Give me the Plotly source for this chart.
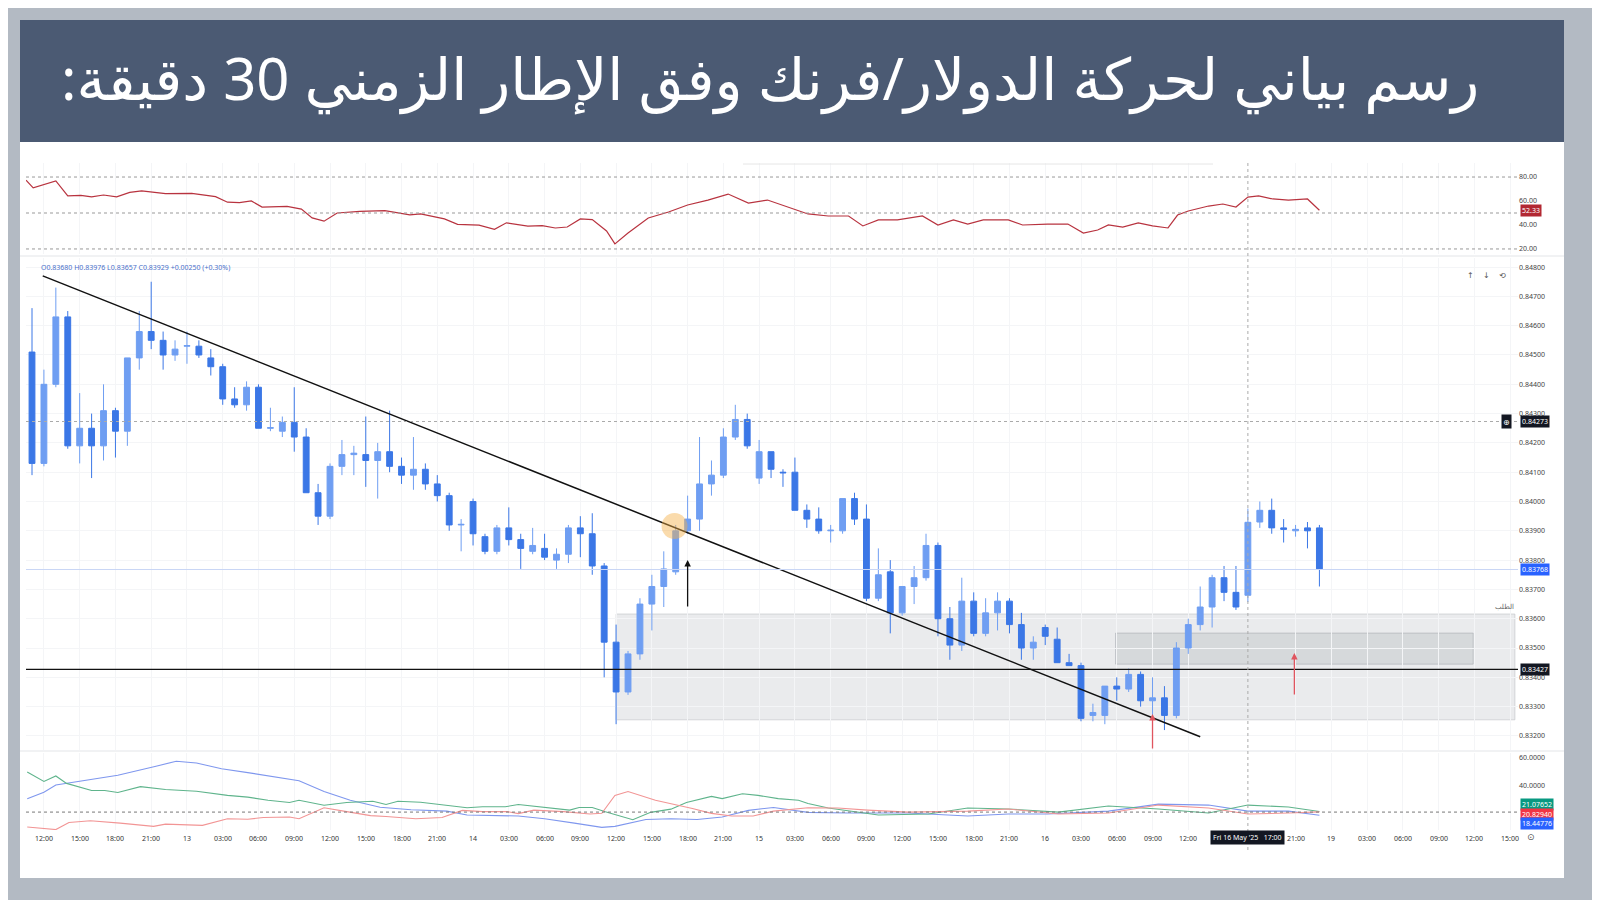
import plotly.graph_objects as go

# ---------------- data ----------------
opens = [.8451,.8413,.8440,.8463,.8419,.8425,.8419,.8431,.8424,.8449,.8458,.8455,.8450,.8453,.8453,.8449,.8446,.8435,.8433,.8439,
         .8425,.8424,.8427,.8422,.8403,.8395,.8412,.8416,.8416,.8414,.8417,.8412,.8409,.8411,.8406,.8402,.8392,.8400,.8388,.8383,
         .8391,.8387,.8383,.8384,.8380,.8382,.8391,.8389,.8378,.8352,.8335,.8348,.8365,.8371,.8376,.8390,.8394,.8406,.8409,.8422,
         .8428,.8408,.8417,.8410,.8410,.8397,.8394,.8390,.8390,.8401,.8394,.8367,.8376,.8362,.8371,.8374,.8385,.8360,.8351,.8366,
         .8355,.8362,.8366,.8358,.8350,.8357,.8353,.8345,.8344,.8327,.8327,.8337,.8336,.8341,.8332,.8333,.8327,.8350,.8358,.8364,
         .8374,.8369,.83680,.8393,.8397,.8391,.8390,.8391,.8391]
highs = [.8466,.8445,.8473,.8465,.8437,.8430,.8440,.8432,.8449,.8465,.8475,.8458,.8455,.8458,.8455,.8452,.8447,.8439,.8441,.8440,
         .8432,.8429,.8439,.8425,.8406,.8413,.8421,.8419,.8429,.8420,.8431,.8415,.8422,.8413,.8409,.8403,.8394,.8401,.8389,.8392,
         .8398,.8389,.8391,.8389,.8384,.8392,.8395,.8396,.8379,.8358,.8349,.8367,.8375,.8383,.8392,.8402,.8422,.8414,.8425,.8433,
         .8430,.8421,.8417,.8411,.8415,.8399,.8398,.8392,.8401,.8403,.8399,.8384,.8380,.8371,.8378,.8389,.8386,.8364,.8374,.8369,
         .8367,.8369,.8367,.8362,.8354,.8358,.8357,.8348,.8345,.8331,.8337,.8340,.8343,.8342,.8340,.8337,.8352,.8360,.8371,.8375,
         .8378,.8378,.83976,.8400,.8401,.8394,.8392,.8393,.8392]
lows = [.8409,.8412,.8439,.8418,.8413,.8408,.8414,.8415,.8419,.8445,.8452,.8445,.8448,.8447,.8449,.8443,.8433,.8432,.8431,.8425,
        .8424,.8422,.8417,.8403,.8392,.8394,.8409,.8409,.8405,.8401,.8410,.8406,.8404,.8404,.8400,.8390,.8383,.8385,.8382,.8382,
        .8385,.8377,.8382,.8380,.8377,.8379,.8381,.8375,.8340,.8324,.8334,.8346,.8356,.8364,.8375,.8389,.8390,.8402,.8408,.8421,
        .8418,.8406,.8408,.8405,.8397,.8391,.8389,.8386,.8389,.8392,.8366,.8366,.8355,.8361,.8365,.8373,.8354,.8346,.8349,.8354,
        .8354,.8356,.8355,.8346,.8346,.8351,.8345,.8344,.8325,.8325,.8324,.8332,.8335,.8330,.8327,.8322,.8326,.8348,.8356,.8357,
        .8366,.8363,.83657,.8391,.8389,.8386,.8388,.8384,.8371]
closes = [.8413,.8440,.8463,.8419,.8425,.8419,.8431,.8424,.8449,.8458,.8455,.8450,.8452,.84532,.8450,.8446,.8435,.8433,.8439,.8425,
          .84252,.8427,.8422,.8403,.8395,.8412,.8416,.84165,.8414,.8417,.8412,.8409,.8411,.8406,.8402,.8392,.83922,.8389,.8383,.8391,
          .8387,.8384,.8385,.8381,.8382,.8391,.8389,.8378,.8352,.8335,.8348,.8365,.8371,.8377,.8390,.8394,.8406,.8409,.8422,.8428,
          .8419,.8417,.8411,.84098,.8397,.8394,.8390,.83902,.8401,.8394,.8367,.8375,.8362,.8371,.8374,.8385,.8360,.8351,.8366,.8355,
          .8362,.8366,.8358,.8350,.8352,.8354,.8345,.8344,.8326,.8328,.8337,.8336,.8341,.8332,.8333,.8327,.8350,.8358,.8364,.8374,
          .8369,.8364,.83929,.8397,.8391,.83905,.83905,.8390,.8377]

rsi_t = [-0.5,0.1,2.0,3.0,4.1,5.0,6.0,7.1,8.2,9.2,11.2,13.4,15.4,16.4,17.4,18.4,19.3,21.4,22.6,23.5,24.5,25.6,27.5,29.6,31.7,32.6,
         34.6,35.7,37.5,38.8,39.8,41.6,42.8,43.9,44.9,46.0,47.0,48.2,48.9,50.0,51.7,53.4,55.0,56.7,58.4,60.1,61.7,63.4,65.1,66.8,
         68.5,69.7,71.0,72.6,74.7,76.0,77.3,78.5,79.8,81.9,83.1,85.2,86.9,88.2,89.4,90.3,91.5,92.8,94.0,95.3,96.1,97.0,98.7,99.9,
         101.0,102.0,102.9,104.1,105.4,107.0,108.0]
rsi_v = [77.3,71.0,76.7,64.2,64.7,63.4,65.0,63.4,67.2,68.5,66.1,66.4,63.6,59.0,58.7,60.1,54.9,55.5,53.3,45.9,43.2,50.0,51.4,51.9,
         48.4,49.2,45.1,40.5,39.9,36.4,41.8,39.1,39.4,37.5,38.3,45.1,44.5,35.0,24.2,33.3,45.8,50.8,56.7,60.8,65.8,58.3,60.8,55.0,
         49.2,47.5,47.5,39.2,44.2,44.2,47.5,40.0,44.2,40.8,44.2,44.2,40.0,40.8,40.8,33.3,35.8,40.0,38.3,41.7,39.2,37.5,48.3,51.7,
         55.8,57.5,55.0,63.3,64.2,61.7,60.8,61.7,52.33]

adx_t = [-0.4,1.0,2.0,4.4,7.2,10.4,12.1,13.8,15.9,18.1,20.2,22.4,24.5,26.7,29.2,31.8,34.8,36.5,40.8,43.0,45.5,47.8,48.9,51.5,53.6,
         55.8,57.9,60.1,62.2,65.1,68.5,73.5,78.5,81.9,85.2,90.3,94.5,98.7,102.0,105.4,108.0]
adx_v = [30.3,34.9,40.0,43.1,47.0,53.5,57.0,55.8,51.7,48.9,46.1,43.1,35.4,29.1,24.2,22.4,21.4,18.6,17.9,15.9,12.8,9.8,10.5,15.4,
         15.9,15.4,17.2,21.9,24.0,20.5,20.0,20.0,17.9,19.3,19.3,21.4,26.4,25.7,21.4,21.4,18.45]
dip_t = [-0.4,1.0,2.0,2.9,5.0,6.1,7.2,9.1,11.2,13.8,16.4,18.1,19.8,21.6,22.4,24.5,26.4,28.6,29.7,30.7,32.6,36.5,37.8,39.7,40.8,
         43.0,45.1,45.9,47.0,48.1,50.4,51.9,53.6,54.9,57.0,57.9,59.6,60.9,62.6,64.3,65.1,66.8,71.0,75.2,78.5,81.9,86.1,90.3,94.5,
         98.7,102.0,105.4,108.0]
dip_v = [49.3,42.6,46.5,41.2,36.1,36.1,34.7,38.9,36.8,35.6,32.6,31.4,29.1,27.5,29.1,25.6,27.5,28.4,26.1,28.4,27.7,23.8,24.5,24.5,
         26.1,23.8,22.1,24.0,24.0,21.0,15.2,20.5,22.8,27.5,31.9,30.3,33.8,32.6,30.3,29.1,26.8,23.6,18.6,19.3,23.6,22.9,20.7,25.0,
         22.9,20.0,25.7,24.3,21.08]
dim_t = [-0.4,2.0,3.1,4.9,7.4,10.2,11.2,14.3,16.4,18.1,19.4,21.6,22.4,24.5,26.4,28.4,29.7,30.7,32.2,34.4,36.1,37.8,39.9,40.8,42.1,
         44.6,46.8,47.8,48.9,50.0,52.3,55.4,57.0,58.7,60.5,62.2,65.1,67.6,70.1,73.5,78.5,81.9,86.1,90.3,94.5,98.7,102.0,105.4,108.0]
dim_v = [10.0,8.2,13.3,14.5,12.8,10.5,12.1,11.2,15.9,15.6,16.8,17.2,15.9,23.8,21.0,18.2,17.5,16.8,15.9,16.8,21.9,21.0,21.0,19.6,
         22.1,21.0,19.3,19.8,32.6,35.4,29.1,23.3,19.8,17.9,17.9,21.4,23.8,23.6,22.1,20.7,21.4,22.9,19.3,20.0,25.7,23.6,19.3,20.0,20.83]

trend_t = [0.9, 98.0]
trend_p = [0.8477, 0.83197]

level_support = 0.83427
level_dotted = 0.84273
level_last = 0.83768
zone_outer = [49.0, 124.4, 0.83255, 0.83616]
zone_inner = [90.9, 120.9, 0.83445, 0.83551]
cross_t = 102

tick_t = [1,4,7,10,13,16,19,22,25,28,31,34,37,40,43,46,49,52,55,58,61,64,67,70,73,76,79,82,85,88,91,94,97,106,109,112,115,118,121,124]
tick_txt = ["12:00","15:00","18:00","21:00","13","03:00","06:00","09:00","12:00","15:00","18:00","21:00","14","03:00","06:00",
            "09:00","12:00","15:00","18:00","21:00","15","03:00","06:00","09:00","12:00","15:00","18:00","21:00","16","03:00",
            "06:00","09:00","12:00","21:00","19","03:00","06:00","09:00","12:00","15:00"]
price_ticks = [0.832,0.833,0.834,0.835,0.836,0.837,0.838,0.839,0.840,0.841,0.842,0.843,0.844,0.845,0.846,0.847,0.848]

title = "رسم بياني لحركة الدولار/فرنك وفق الإطار الزمني 30 دقيقة:"

# ---------------- figure ----------------
W, H = 1600, 900
def px(x): return x / W
def py(y): return 1 - y / H

x0p, x1p = 18, 1510
xr = [-0.503, 124.66]
t = list(range(len(opens)))

fig = go.Figure()
bull, bear = "#6f9ef2", "#3b77e6"
fig.add_trace(go.Candlestick(x=t, open=opens, high=highs, low=lows, close=closes,
    increasing=dict(line=dict(color=bull, width=1), fillcolor=bull),
    decreasing=dict(line=dict(color=bear, width=1), fillcolor=bear),
    whiskerwidth=0, xaxis="x", yaxis="y", hoverinfo="skip"))
fig.add_trace(go.Scatter(x=trend_t, y=trend_p, mode="lines", line=dict(color="#111", width=1.5), xaxis="x", yaxis="y"))
fig.add_trace(go.Scatter(x=[53.9], y=[0.83916], mode="markers",
    marker=dict(size=26, color="rgba(245,175,70,0.45)"), xaxis="x", yaxis="y"))
fig.add_trace(go.Scatter(x=rsi_t, y=rsi_v, mode="lines", line=dict(color="#b8333f", width=1.2), xaxis="x", yaxis="y2"))
fig.add_trace(go.Scatter(x=adx_t, y=adx_v, mode="lines", line=dict(color="#7f97ee", width=1.1), xaxis="x", yaxis="y3"))
fig.add_trace(go.Scatter(x=dip_t, y=dip_v, mode="lines", line=dict(color="#5fb48c", width=1.1), xaxis="x", yaxis="y3"))
fig.add_trace(go.Scatter(x=dim_t, y=dim_v, mode="lines", line=dict(color="#f29595", width=1.1), xaxis="x", yaxis="y3"))

shapes = []
shapes.append(dict(type="rect", xref="paper", yref="paper", x0=0, x1=1, y0=0, y1=1, fillcolor="#b3bac3", line_width=0, layer="below"))
shapes.append(dict(type="rect", xref="paper", yref="paper", x0=px(12), x1=px(1556), y0=py(870), y1=py(134), fillcolor="white", line_width=0, layer="below"))
shapes.append(dict(type="rect", xref="paper", yref="paper", x0=px(12), x1=px(1556), y0=py(134), y1=py(12), fillcolor="#4b5a73", line_width=0, layer="below"))
for yy in (248, 743):
    shapes.append(dict(type="line", xref="paper", yref="paper", x0=px(12), x1=px(1556), y0=py(yy), y1=py(yy), line=dict(color="#e3e5e8", width=1)))
shapes.append(dict(type="line", xref="paper", yref="paper", x0=px(735), x1=px(1205), y0=py(156), y1=py(156), line=dict(color="#e6e6e6", width=1)))
shapes.append(dict(type="rect", xref="x", yref="y", x0=zone_outer[0], x1=zone_outer[1], y0=zone_outer[2], y1=zone_outer[3],
                   fillcolor="rgba(200,203,208,0.38)", line=dict(color="rgba(190,193,198,0.6)", width=1), layer="below"))
shapes.append(dict(type="rect", xref="x", yref="y", x0=zone_inner[0], x1=zone_inner[1], y0=zone_inner[2], y1=zone_inner[3],
                   fillcolor="rgba(170,174,180,0.3)", line=dict(color="rgba(170,174,180,0.6)", width=1), layer="below"))
shapes.append(dict(type="line", xref="paper", yref="y", x0=px(x0p), x1=px(x1p), y0=level_support, y1=level_support, line=dict(color="#111", width=1.3)))
shapes.append(dict(type="line", xref="paper", yref="y", x0=px(x0p), x1=px(x1p), y0=level_dotted, y1=level_dotted, line=dict(color="#aaa", width=1, dash="dot")))
shapes.append(dict(type="line", xref="paper", yref="y", x0=px(x0p), x1=px(x1p), y0=level_last, y1=level_last, line=dict(color="#c9d6f5", width=1)))
for v in (80, 50, 20):
    shapes.append(dict(type="line", xref="paper", yref="y2", x0=px(x0p), x1=px(x1p), y0=v, y1=v, line=dict(color="#999", width=1, dash="dot")))
shapes.append(dict(type="line", xref="paper", yref="y3", x0=px(x0p), x1=px(x1p), y0=20.7, y1=20.7, line=dict(color="#777", width=1, dash="dot")))
shapes.append(dict(type="line", xref="x", yref="paper", x0=cross_t, x1=cross_t, y0=py(842), y1=py(155), line=dict(color="#aaa", width=1, dash="dot")))
fig.update_layout(shapes=shapes)

ann = []
ann.append(dict(text="\u202b" + title + "\u202c", x=px(762), y=py(70), xref="paper", yref="paper", showarrow=False,
                font=dict(size=58, color="white", family="Noto Sans, DejaVu Sans"), xanchor="center", yanchor="middle"))
ann.append(dict(text="O0.83680 H0.83976 L0.83657 C0.83929 +0.00250 (+0.30%)", x=px(31), y=py(259), xref="paper", yref="paper",
                showarrow=False, font=dict(size=7, color="#4a6fc9"), xanchor="left", yanchor="middle"))
for s, xx in (("↑", 1468), ("↓", 1484), ("⟲", 1500)):
    ann.append(dict(text=s, x=px(xx), y=py(259), xref="paper", yref="paper", showarrow=False, font=dict(size=8, color="#555")))
ann.append(dict(text="الطلب", x=px(1508), y=py(598), xref="paper", yref="paper", showarrow=False, xanchor="right",
                font=dict(size=7, color="#666")))
ann.append(dict(x=55.0, y=0.83800, ax=55.0, ay=0.83637, xref="x", yref="y", axref="x", ayref="y", text="", showarrow=True,
                arrowhead=2, arrowwidth=1.3, arrowcolor="#111"))
ann.append(dict(x=94.0, y=0.83275, ax=94.0, ay=0.83152, xref="x", yref="y", axref="x", ayref="y", text="", showarrow=True,
                arrowhead=2, arrowwidth=1.3, arrowcolor="#e0555f"))
ann.append(dict(x=105.9, y=0.83483, ax=105.9, ay=0.83336, xref="x", yref="y", axref="x", ayref="y", text="", showarrow=True,
                arrowhead=2, arrowwidth=1.3, arrowcolor="#e0555f"))
for tv, tt in zip(tick_t, tick_txt):
    ann.append(dict(text=tt, x=tv, y=py(837), xref="x", yref="paper", showarrow=False, font=dict(size=7, color="#333")))
ann.append(dict(text="Fri 16 May '25   17:00", x=cross_t, y=py(837), xref="x", yref="paper", showarrow=False,
                font=dict(size=7, color="white"), bgcolor="#131722", borderpad=2))
ann.append(dict(text="⊙", x=px(1529), y=py(837), xref="paper", yref="paper", showarrow=False, font=dict(size=9, color="#555")))

def tag(txt, yval, yref, bg):
    ann.append(dict(text=txt, x=px(1512), y=yval, xref="paper", yref=yref, showarrow=False, xanchor="left",
                    font=dict(size=7, color="white"), bgcolor=bg, borderpad=1))
tag("52.33", 52.33, "y2", "#b22833")
tag("0.84273", level_dotted, "y", "#131722")
tag("0.83768", level_last, "y", "#2962ff")
tag("0.83427", level_support, "y", "#131722")
tag("21.07652", py(803), "paper", "#089981")
tag("20.82940", py(812.5), "paper", "#f23645")
tag("18.44776", py(822), "paper", "#2962ff")
ann.append(dict(text="⊕", x=px(1504), y=level_dotted, xref="paper", yref="y", showarrow=False,
                font=dict(size=8, color="white"), bgcolor="#131722"))
fig.update_layout(annotations=ann)

axfont = dict(size=7, color="#444")
fig.update_layout(
    width=W, height=H, margin=dict(l=0, r=0, t=0, b=0), paper_bgcolor="white", plot_bgcolor="rgba(0,0,0,0)",
    showlegend=False, font=dict(family="Noto Sans, DejaVu Sans"),
    xaxis=dict(domain=[px(x0p), px(x1p)], range=xr, anchor="y", showticklabels=False, tickvals=tick_t,
               showgrid=True, gridcolor="#f4f5f7", zeroline=False, rangeslider=dict(visible=False), fixedrange=True),
    yaxis=dict(domain=[py(742), py(250)], range=[0.83152, 0.84831], side="right", tickvals=price_ticks, tickformat=".5f",
               tickfont=axfont, showgrid=True, gridcolor="#f4f5f7", zeroline=False, anchor="x", ticks=""),
    yaxis2=dict(domain=[py(246), py(155)], range=[15.8, 91.7], side="right", tickvals=[20, 40, 60, 80], tickformat=".2f",
                tickfont=axfont, showgrid=False, zeroline=False, anchor="x"),
    yaxis3=dict(domain=[py(822), py(745)], range=[7.9, 62.9], side="right", tickvals=[40, 60], tickformat=".4f",
                tickfont=axfont, showgrid=False, zeroline=False, anchor="x"),
)
fig.write_html("out.html")
